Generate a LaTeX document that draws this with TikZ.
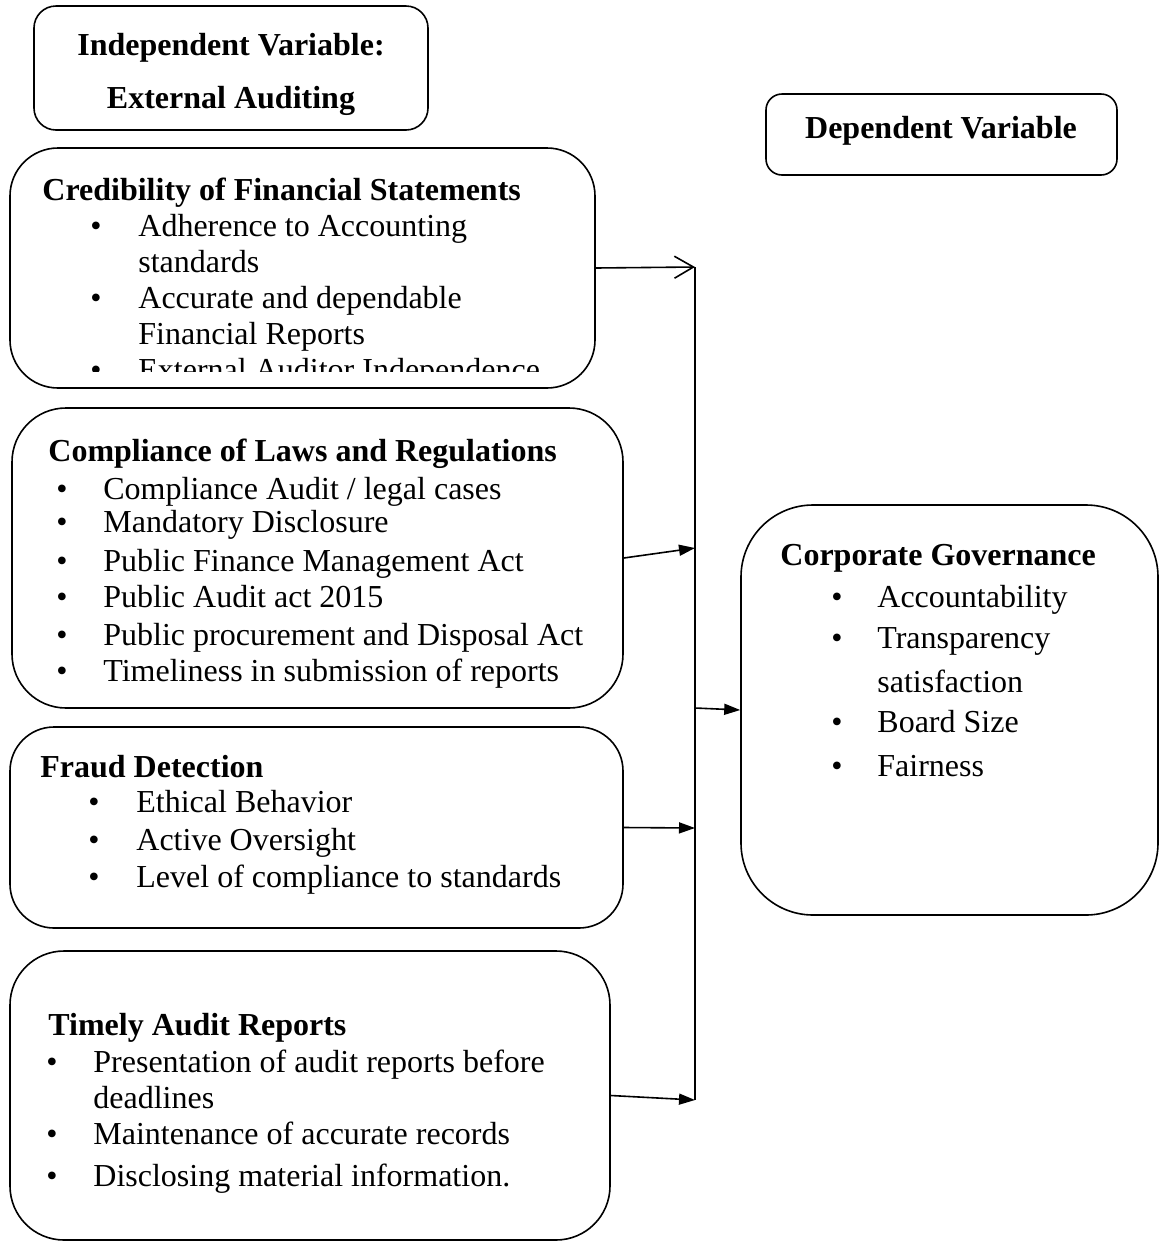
\documentclass[tikz,border=0pt]{standalone}
\usepackage{fontspec}
\setmainfont{Liberation Serif}
\usetikzlibrary{arrows.meta,fit}
\begin{document}
\begin{tikzpicture}[x=0.5pt,y=-0.5pt,
  boxst/.style={draw, line width=0.8pt, inner sep=0pt},
  txt/.style={inner sep=0pt, anchor=base west, font=\fontsize{16}{19}\selectfont},
  ttl/.style={inner sep=0pt, anchor=base west, font=\fontsize{16}{19}\selectfont\bfseries},
  ctl/.style={inner sep=0pt, anchor=base, font=\fontsize{16}{19}\selectfont\bfseries},
  openarr/.style={line width=0.8pt, -{Straight Barb[length=9.5pt,width=11pt,line width=0.8pt]}},
  fillarr/.style={line width=0.8pt, -{Triangle[length=8pt,width=5.5pt]}}]
\useasboundingbox (0,0) rectangle (1160,1243);
% boxes
\node[boxst, rounded corners=11pt, fit={(34,6) (428,130)}] (iv) {};
\node[boxst, rounded corners=8pt, fit={(766,94) (1117,175)}] (dv) {};
\node[boxst, rounded corners=24pt, fit={(10,148) (595,388)}] (cred) {};
\node[boxst, rounded corners=27pt, fit={(12,408) (623,708)}] (comp) {};
\node[boxst, rounded corners=22pt, fit={(10,727) (623,928)}] (fraud) {};
\node[boxst, rounded corners=27pt, fit={(10,951) (610,1240)}] (timely) {};
\node[boxst, rounded corners=36pt, fit={(741,505) (1158,915)}] (cg) {};
% header texts
\node[ctl] (ivt1) at (231,55) {Independent Variable:};
\node[ctl] (ivt2) at (231,108) {External Auditing};
\node[ctl] (dvt) at (941,138) {Dependent Variable};
% credibility
\node[ttl] (crt) at (42,200) {Credibility of Financial Statements};
\node[txt] (cr1b) at (90,236) {\textbullet};
\node[txt] (cr1) at (138,236) {Adherence to Accounting};
\node[txt] (cr1c) at (138,272) {standards};
\node[txt] (cr2b) at (90,308) {\textbullet};
\node[txt] (cr2) at (138,308) {Accurate and dependable};
\node[txt] (cr2c) at (138,344) {Financial Reports};
\begin{scope}
\clip (0,300) rectangle (700,371);
\node[txt] (cr3b) at (90,380) {\textbullet};
\node[txt] (cr3) at (138,380) {External Auditor Independence};
\end{scope}
% compliance
\node[ttl] (cot) at (48,461) {Compliance of Laws and Regulations};
\node[txt] (co1b) at (56,499) {\textbullet};
\node[txt] (co1) at (103,499) {Compliance Audit / legal cases};
\node[txt] (co2b) at (56,532) {\textbullet};
\node[txt] (co2) at (103,532) {Mandatory Disclosure};
\node[txt] (co3b) at (56,571) {\textbullet};
\node[txt] (co3) at (103,571) {Public Finance Management Act};
\node[txt] (co4b) at (56,607) {\textbullet};
\node[txt] (co4) at (103,607) {Public Audit act 2015};
\node[txt] (co5b) at (56,645) {\textbullet};
\node[txt] (co5) at (103,645) {Public procurement and Disposal Act};
\node[txt] (co6b) at (56,681) {\textbullet};
\node[txt] (co6) at (103,681) {Timeliness in submission of reports};
% fraud
\node[ttl] (frt) at (40,777) {Fraud Detection};
\node[txt] (fr1b) at (88,812) {\textbullet};
\node[txt] (fr1) at (136,812) {Ethical Behavior};
\node[txt] (fr2b) at (88,850) {\textbullet};
\node[txt] (fr2) at (136,850) {Active Oversight};
\node[txt] (fr3b) at (88,887) {\textbullet};
\node[txt] (fr3) at (136,887) {Level of compliance to standards};
% timely
\node[ttl] (tit) at (48,1035) {Timely Audit Reports};
\node[txt] (ti1b) at (46,1072) {\textbullet};
\node[txt] (ti1) at (93,1072) {Presentation of audit reports before};
\node[txt] (ti1c) at (93,1108) {deadlines};
\node[txt] (ti2b) at (46,1144) {\textbullet};
\node[txt] (ti2) at (93,1144) {Maintenance of accurate records};
\node[txt] (ti3b) at (46,1186) {\textbullet};
\node[txt] (ti3) at (93,1186) {Disclosing material information.};
% corporate governance
\node[ttl] (cgt) at (780,565) {Corporate Governance};
\node[txt] (cg1b) at (831,607) {\textbullet};
\node[txt] (cg1) at (877,607) {Accountability};
\node[txt] (cg2b) at (831,648) {\textbullet};
\node[txt] (cg2) at (877,648) {Transparency};
\node[txt] (cg2c) at (877,692) {satisfaction};
\node[txt] (cg3b) at (831,732) {\textbullet};
\node[txt] (cg3) at (877,732) {Board Size};
\node[txt] (cg4b) at (831,776) {\textbullet};
\node[txt] (cg4) at (877,776) {Fairness};
% connectors
\coordinate (j1) at (695,267);
\coordinate (j2) at (695,548);
\coordinate (jm) at (695,708);
\coordinate (j3) at (695,828);
\coordinate (j4) at (695,1100);
\draw[line width=0.8pt] (j1) -- (j4);
\draw[openarr] (cred.east) -- (j1);
\draw[fillarr] (comp.east) -- (j2);
\draw[fillarr] (fraud.east) -- (j3);
\draw[fillarr] (timely.east) -- (j4);
\draw[fillarr] (jm) -- (cg.west);
\end{tikzpicture}
\end{document}
